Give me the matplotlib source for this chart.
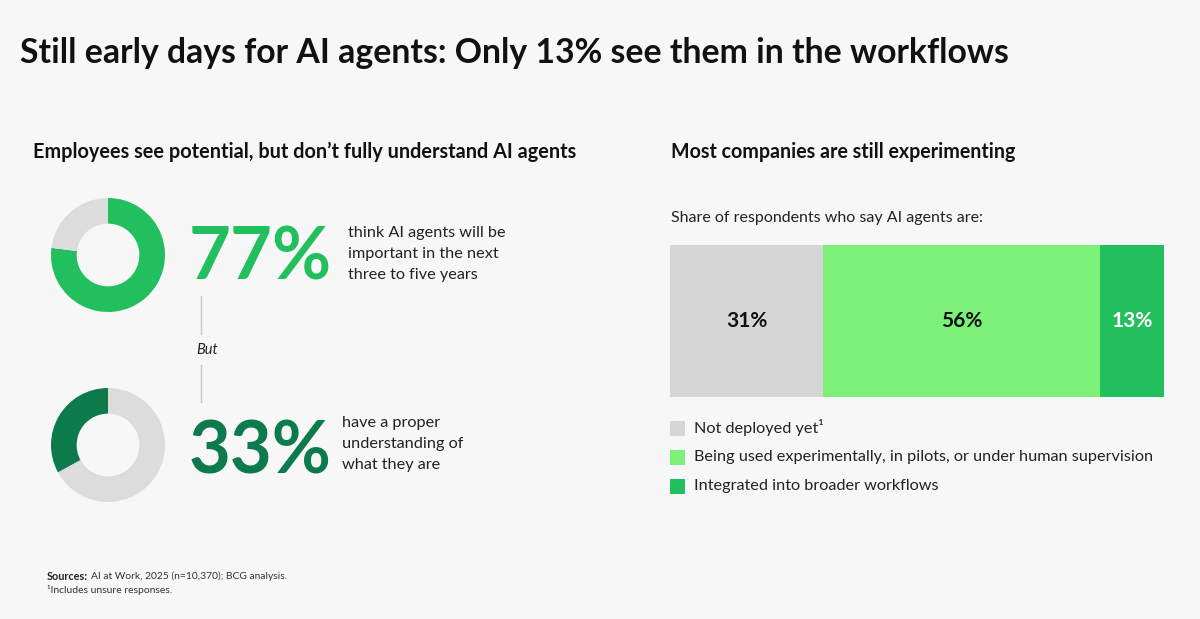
import matplotlib.pyplot as plt
from matplotlib.patches import Rectangle

# --- data ---
donut_values = [77, 33]
donut_labels = ["77%", "33%"]
donut_texts = [
    "think AI agents will be\nimportant in the next\nthree to five years",
    "have a proper\nunderstanding of\nwhat they are",
]
bar_categories = [
    "Not deployed yet\u00b9",
    "Being used experimentally, in pilots, or under human supervision",
    "Integrated into broader workflows",
]
bar_values = [31, 56, 13]

# --- style ---
BG = "#f7f7f7"
GRAY = "#d6d6d6"
DONUT_GRAY = "#dcdcdc"
GREEN = "#22bf5e"
LIGHT_GREEN = "#7df07a"
DARK_GREEN = "#0d7a4c"
TXT = "#111111"
W, H = 1200, 619
FONT = "Lato"

plt.rcParams["font.family"] = [FONT, "DejaVu Sans"]

fig = plt.figure(figsize=(W / 100, H / 100), dpi=100, facecolor=BG)
ax = fig.add_axes([0, 0, 1, 1])
ax.set_xlim(0, W)
ax.set_ylim(H, 0)
ax.axis("off")
ax.set_facecolor(BG)


def px_axes(x0, y0, x1, y1):
    # axes from pixel box (top-left origin)
    return fig.add_axes([x0 / W, 1 - y1 / H, (x1 - x0) / W, (y1 - y0) / H])


# titles
ax.text(20, 63, "Still early days for AI agents: Only 13% see them in the workflows",
        fontsize=24.3, fontweight="bold", color=TXT, va="baseline")
ax.text(33, 158, "Employees see potential, but don\u2019t fully understand AI agents",
        fontsize=14.3, fontweight="bold", color=TXT, va="baseline")
ax.text(671, 158, "Most companies are still experimenting",
        fontsize=14.1, fontweight="bold", color=TXT, va="baseline")

# --- donuts ---
centers = [255, 445]
donut_colors = [GREEN, DARK_GREEN]
ccw = [False, True]
big_baseline = [279, 473]
desc_y = [254, 444]
desc_x = [348, 342]
R = 57
for i, v in enumerate(donut_values):
    cy = centers[i]
    dax = px_axes(108 - R, cy - R, 108 + R, cy + R)
    dax.pie([v, 100 - v], colors=[donut_colors[i], DONUT_GRAY], startangle=90,
            counterclock=ccw[i], radius=1,
            wedgeprops=dict(width=0.45, linewidth=0))
    dax.set_xlim(-1, 1)
    dax.set_ylim(-1, 1)
    dax.set_aspect("equal")
    ax.text(189, big_baseline[i], donut_labels[i], fontsize=52, fontweight="bold",
            color=donut_colors[i], va="baseline")
    ax.text(desc_x[i], desc_y[i], donut_texts[i], fontsize=11.7, color="#222222",
            va="center", linespacing=1.6)

# "But" connector
ax.plot([201, 201], [296, 334], color="#c8c8c8", lw=1)
ax.plot([201, 201], [365, 402], color="#c8c8c8", lw=1)
ax.text(196, 350, "But", fontsize=10.5, style="italic", color="#222222",
        va="center", ha="left")

# --- stacked bar ---
ax.text(671, 218, "Share of respondents who say AI agents are:", fontsize=11.5,
        color="#222222", va="center")
bax = px_axes(670, 245, 1164, 397)
bar_colors = [GRAY, LIGHT_GREEN, GREEN]
label_colors = [TXT, TXT, "white"]
left = 0
for v, c, lc in zip(bar_values, bar_colors, label_colors):
    bax.barh(0, v, left=left, height=1, color=c, linewidth=0)
    bax.text(left + v / 2, 0, f"{v}%", ha="center", va="center",
             fontsize=15, fontweight="bold", color=lc)
    left += v
bax.set_xlim(0, sum(bar_values))
bax.set_ylim(-0.5, 0.5)
bax.axis("off")

# legend
for k, (lab, c) in enumerate(zip(bar_categories, bar_colors)):
    y = 428 + k * 29
    ax.add_patch(Rectangle((670, y - 7.5), 15, 15, color=c, lw=0))
    ax.text(694, y, lab, fontsize=11.7, color="#222222", va="center")

# footer
ax.text(47, 576, "Sources:", fontsize=7.8, fontweight="bold", color="#222222", va="center")
ax.text(91, 576, "AI at Work, 2025 (n=10,370); BCG analysis.", fontsize=7.4,
        color="#333333", va="center")
ax.text(47, 590, "\u00b9Includes unsure responses.", fontsize=7.5, color="#333333",
        va="center")

fig.savefig("out.png", dpi=100, facecolor=BG)
